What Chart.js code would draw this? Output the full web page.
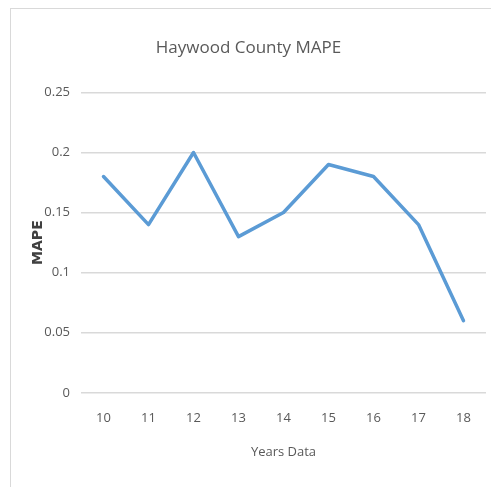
<!DOCTYPE html>
<html lang="en">
<head>
    <meta charset="UTF-8">
    <title>Haywood County MAPE</title>
    <style>
        body {
            margin: 0;
            background: #fff;
            overflow: hidden;
        }
        #frame {
            position: absolute;
            left: 10px;
            top: 8px;
            width: 490px;
            height: 490px;
            border: 1px solid #d9d9d9;
        }
        #box {
            position: absolute;
            left: 0;
            top: 0;
            width: 480px;
            height: 478px;
        }
    </style>
    <script src="https://cdn.jsdelivr.net/npm/chart.js"></script>
</head>
<body>
    <div id="frame">
        <div id="box"><canvas id="mapeChart"></canvas></div>
    </div>

    <script>
        const years = ['10', '11', '12', '13', '14', '15', '16', '17', '18'];
        const mape = [0.18, 0.14, 0.20, 0.13, 0.15, 0.19, 0.18, 0.14, 0.06];
        const yTicks = [0, 0.05, 0.1, 0.15, 0.2, 0.25];

        const textFont = "'Open Sans', sans-serif";
        const grey = '#595959';

        const ctx = document.getElementById('mapeChart').getContext('2d');
        const mapeChart = new Chart(ctx, {
            type: 'line',
            data: {
                labels: years,
                datasets: [
                    {
                        label: 'MAPE',
                        data: mape,
                        borderColor: '#5b9bd5',
                        borderWidth: 3.5,
                        pointRadius: 0,
                        borderJoinStyle: 'round',
                        borderCapStyle: 'round',
                        tension: 0,
                        fill: false
                    }
                ]
            },
            options: {
                responsive: true,
                maintainAspectRatio: false,
                animation: false,
                layout: {
                    padding: { left: 0, right: 5, top: 0, bottom: 27 }
                },
                plugins: {
                    legend: { display: false },
                    tooltip: { enabled: false },
                    title: {
                        display: true,
                        text: 'Haywood County MAPE',
                        color: grey,
                        font: { family: textFont, size: 17, weight: 'normal' },
                        padding: { top: 29, bottom: 34 }
                    }
                },
                scales: {
                    x: {
                        offset: true,
                        grid: { display: false, drawTicks: false },
                        border: { display: false },
                        ticks: {
                            color: grey,
                            padding: 18,
                            font: { family: textFont, size: 13 }
                        },
                        title: {
                            display: true,
                            text: 'Years Data',
                            color: grey,
                            font: { family: textFont, size: 13 },
                            padding: { top: 0, bottom: 0 }
                        }
                    },
                    y: {
                        min: 0,
                        max: 0.25,
                        afterBuildTicks: function(scale) {
                            scale.ticks = yTicks.map(v => ({ value: v }));
                        },
                        afterFit: function(scale) {
                            scale.width = 70;
                        },
                        grid: {
                            color: '#d9d9d9',
                            lineWidth: 1.5,
                            drawTicks: false
                        },
                        border: { display: false },
                        ticks: {
                            color: grey,
                            padding: 11,
                            font: { family: textFont, size: 13 },
                            callback: function(value) {
                                return String(value);
                            }
                        },
                        title: {
                            display: true,
                            text: 'MAPE',
                            color: '#404040',
                            font: { family: "'DejaVu Sans', sans-serif", size: 14, weight: 'bold' },
                            padding: { top: 19, bottom: 0 }
                        }
                    }
                }
            }
        });
    </script>
</body>
</html>
